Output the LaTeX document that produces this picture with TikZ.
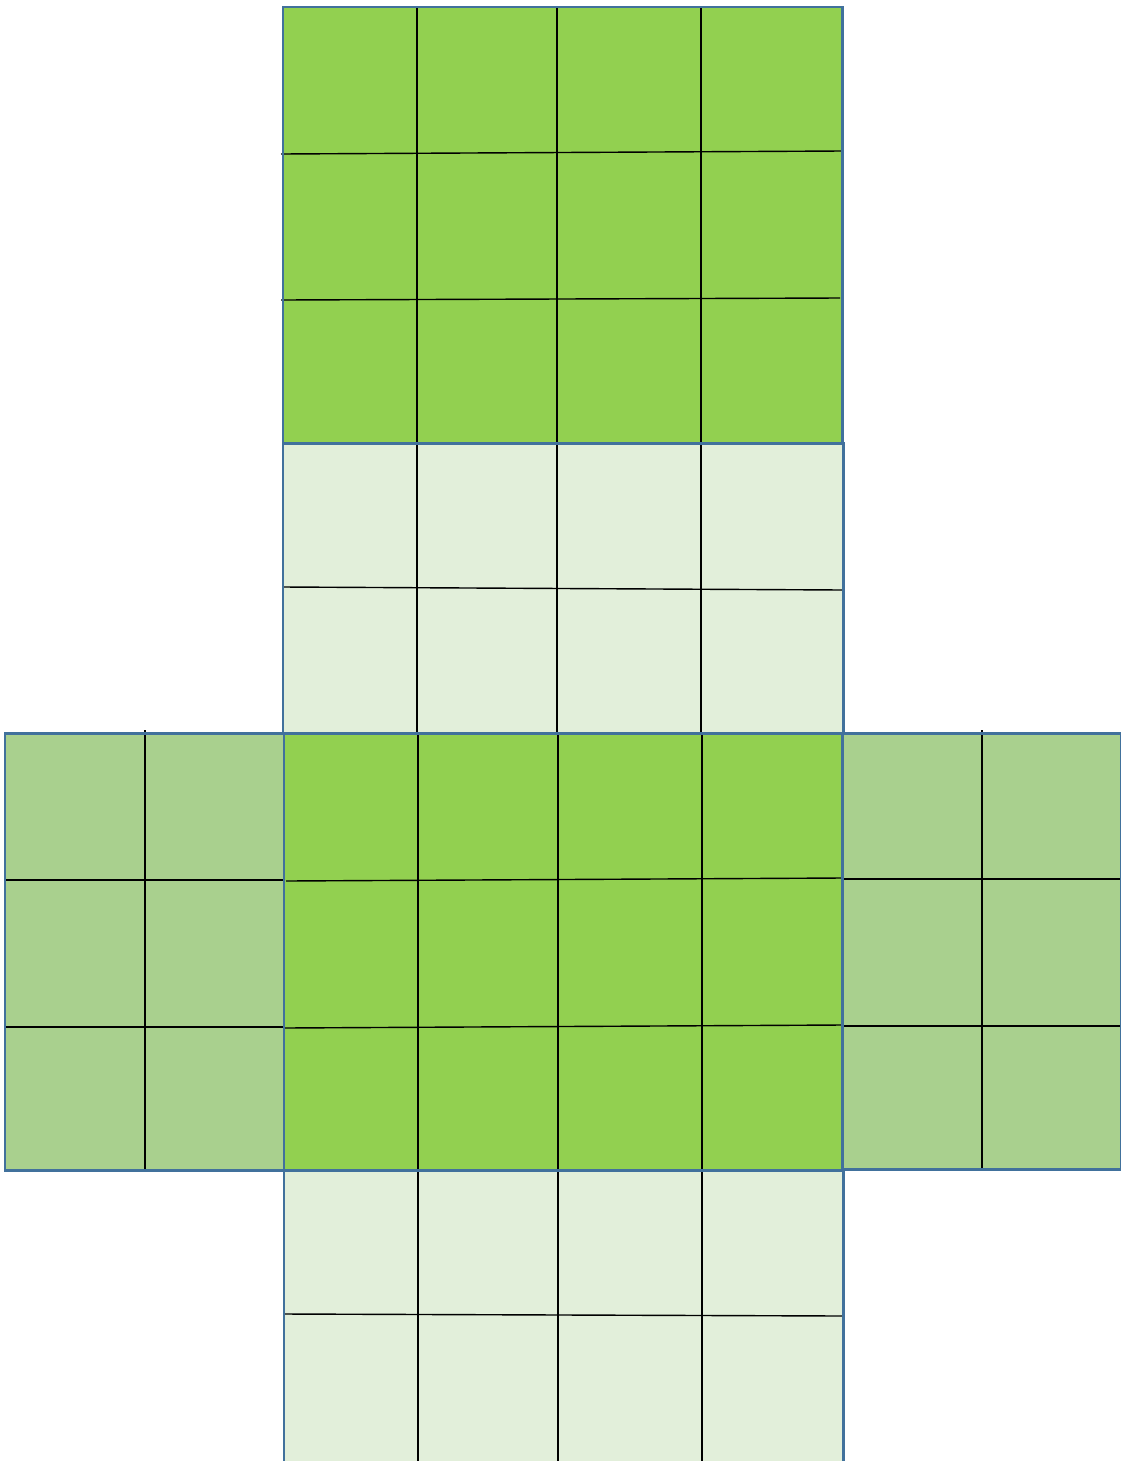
\documentclass[tikz,border=0pt]{standalone}
\usetikzlibrary{positioning}
\definecolor{darkgreen}{HTML}{92D050}
\definecolor{palegreen}{HTML}{E2EFDA}
\definecolor{midgreen}{HTML}{A9D08E}
\definecolor{edgeblue}{HTML}{41719C}
\begin{document}
\begin{tikzpicture}[x=0.02cm,y=-0.02cm,
  face/.style={draw=edgeblue,line width=1.7pt},
  gridline/.style={draw=black,line width=0.8pt}]
\useasboundingbox (0,0) rectangle (1121,1461);
% top face
\fill[darkgreen] (283,7) rectangle (842,443);
\foreach \x in {417,557,701} \draw[gridline] (\x,7) -- (\x,443);
\draw[gridline] (281,154) -- (842,151);
\draw[gridline] (281,300) -- (840,298);
\draw[face] (283,7) rectangle (842,443);
% upper light face
\fill[palegreen] (283,443) rectangle (843,733);
\foreach \x in {417,557,701} \draw[gridline] (\x,443) -- (\x,733);
\draw[gridline] (283,587) -- (843,590);
\draw[face] (283,443) rectangle (843,733);
% left face
\fill[midgreen] (5,733) rectangle (284,1170);
\draw[gridline] (145,730) -- (145,1170);
\draw[gridline] (5,880) -- (284,880);
\draw[gridline] (5,1027) -- (284,1027);
\draw[face] (5,733) rectangle (284,1170);
% right face
\fill[midgreen] (842,733) rectangle (1121,1169);
\draw[gridline] (982,730) -- (982,1169);
\draw[gridline] (842,879) -- (1121,879);
\draw[gridline] (842,1026) -- (1121,1026);
\draw[face] (842,733) rectangle (1121,1169);
% centre face
\fill[darkgreen] (284,733) rectangle (842,1170);
\foreach \x in {418,558,702} \draw[gridline] (\x,733) -- (\x,1170);
\draw[gridline] (286,881) -- (842,878);
\draw[gridline] (284,1028) -- (842,1025);
\draw[face] (284,733) rectangle (842,1170);
% bottom light face
\fill[palegreen] (284,1170) rectangle (843,1463);
\foreach \x in {418,558,702} \draw[gridline] (\x,1170) -- (\x,1461);
\draw[gridline] (284,1314) -- (843,1316);
\draw[face] (284,1463) -- (284,1170) -- (843,1170) -- (843,1463);
\end{tikzpicture}
\end{document}
